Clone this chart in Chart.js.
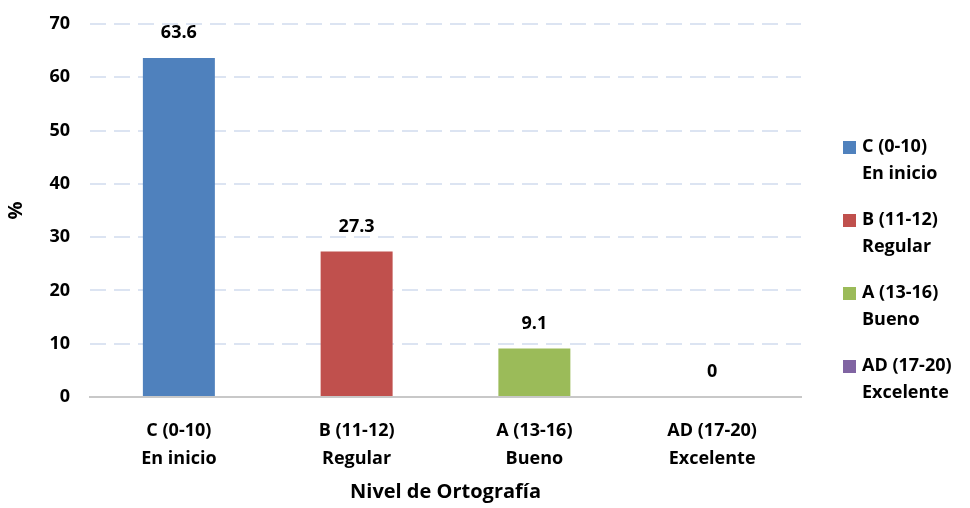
<!DOCTYPE html>
<html>
<head>
<meta charset="utf-8">
<script src="https://cdn.jsdelivr.net/npm/chart.js@4.4.1/dist/chart.umd.min.js"></script>
<style>
  html, body { margin: 0; padding: 0; background: #fff; }
  #wrap { width: 970px; height: 508px; }
</style>
</head>
<body>
<div id="wrap"><canvas id="nivelChart" width="970" height="508"></canvas></div>
<script>
// datos
const categorias = [['C (0-10)', 'En inicio'], ['B (11-12)', 'Regular'], ['A (13-16)', 'Bueno'], ['AD (17-20)', 'Excelente']];
const porcentajes = [63.6, 27.3, 9.1, 0];
const colores = ['#4F81BD', '#C0504D', '#9BBB59', '#8064A2'];
const ticksY = [0, 10, 20, 30, 40, 50, 60, 70];

const FONT = '"Open Sans", Lato, sans-serif';

// etiquetas de valor encima de cada barra
const valueLabels = {
    id: 'valueLabels',
    afterDatasetsDraw(chart) {
        const ctx = chart.ctx;
        const meta = chart.getDatasetMeta(0);
        ctx.save();
        ctx.font = 'bold 18px ' + FONT;
        ctx.fillStyle = '#000';
        ctx.textAlign = 'center';
        ctx.textBaseline = 'middle';
        meta.data.forEach((bar, i) => {
            ctx.fillText(String(porcentajes[i]), bar.x, bar.y - 25);
        });
        ctx.restore();
    }
};

// leyenda a la derecha con texto en dos lineas
const sideLegend = {
    id: 'sideLegend',
    afterDraw(chart) {
        const ctx = chart.ctx;
        ctx.save();
        ctx.font = 'bold 18px ' + FONT;
        ctx.textAlign = 'left';
        ctx.textBaseline = 'middle';
        categorias.forEach((lab, i) => {
            const y = 147 + i * 73;
            ctx.fillStyle = colores[i];
            ctx.fillRect(843, y - 6, 13, 13);
            ctx.fillStyle = '#000';
            ctx.fillText(lab[0], 862, y);
            ctx.fillText(lab[1], 862, y + 27);
        });
        ctx.restore();
    }
};

new Chart(document.getElementById('nivelChart'), {
    type: 'bar',
    data: {
        labels: categorias,
        datasets: [{
            data: porcentajes,
            backgroundColor: colores,
            borderWidth: 0,
            categoryPercentage: 1,
            barPercentage: 0.405
        }]
    },
    options: {
        responsive: false,
        animation: false,
        layout: { padding: { left: 0, right: 169, top: 24, bottom: 0 } },
        plugins: { legend: { display: false }, tooltip: { enabled: false } },
        scales: {
            x: {
                grid: { display: false },
                border: { color: '#C8C8C8', width: 2 },
                ticks: { color: '#000', font: { family: FONT, size: 18, weight: 'bold', lineHeight: 1.55 }, padding: 12 },
                title: { display: true, text: 'Nivel de Ortografía', color: '#000', font: { family: FONT, size: 20, weight: 'bold' }, padding: { top: 8 } },
                afterFit(scale) { scale.height = 111; }
            },
            y: {
                min: 0, max: 70,
                afterBuildTicks(scale) { scale.ticks = ticksY.map(v => ({ value: v })); },
                grid: { color: '#DCE4F2', lineWidth: 2, drawTicks: false },
                border: { display: false, dash: [16, 8] },
                ticks: { color: '#000', font: { family: FONT, size: 18, weight: 'bold' }, padding: 20 },
                title: { display: true, text: '%', color: '#000', font: { family: FONT, size: 20, weight: 'bold' } },
                afterFit(scale) { scale.width = 90; scale.paddingTop = 0; scale.paddingBottom = 0; }
            }
        }
    },
    plugins: [valueLabels, sideLegend]
});
</script>
</body>
</html>
